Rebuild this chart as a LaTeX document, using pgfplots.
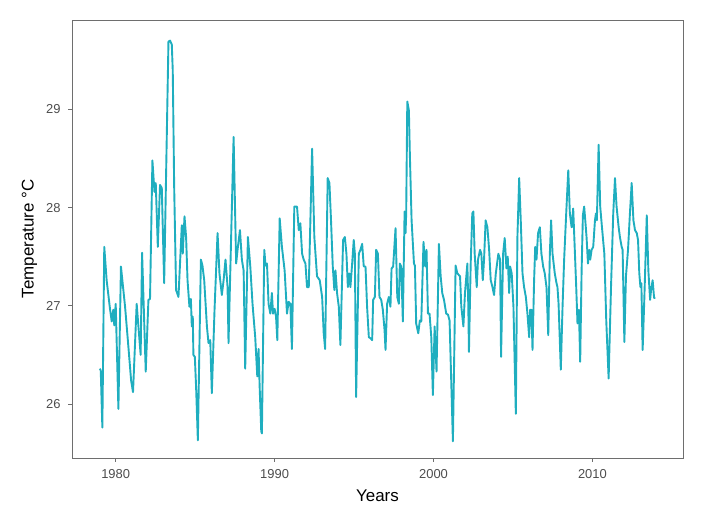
\documentclass[border=0pt]{standalone}
\usepackage{fontspec}
\setmainfont{Liberation Sans}
\usepackage{pgfplots}
\pgfplotsset{compat=1.18}
\definecolor{linecol}{RGB}{31,174,191}
\definecolor{framecol}{RGB}{110,110,110}
\definecolor{tickcol}{RGB}{77,77,77}

\begin{document}
\begin{tikzpicture}
\begin{axis}[
    name=ax,
    scale only axis,
    width=611bp, height=438bp,
    xmin=1977.25, xmax=2015.7,
    ymin=25.45, ymax=29.91,
    xtick={1980,1990,2000,2010},
    ytick={26,27,28,29},
    xtick pos=left, ytick pos=left,
    tick align=outside,
    major tick length=4bp,
    tick style={framecol, line width=0.8bp},
    axis line style={framecol, line width=0.8bp},
    x tick label style={/pgf/number format/1000 sep={}, yshift=-4bp},
    y tick label style={xshift=-4bp},
    /pgf/number format/assume math mode=true,
    ticklabel style={font=\fontsize{13}{15}\selectfont, text=tickcol},
    xlabel={Years},
    ylabel={Temperature °C},
    label style={font=\fontsize{17}{19}\selectfont},
    xlabel style={yshift=-4bp},
    ylabel style={yshift=2bp},
]
\addplot[linecol, line width=1.9bp, line join=round, no markers] coordinates {
(1979.00,26.36) (1979.06,26.34) (1979.16,25.76) (1979.28,27.60) (1979.43,27.26)
(1979.64,26.97) (1979.75,26.84) (1979.85,26.96) (1979.91,26.80) (1980.00,27.02)
(1980.17,25.95) (1980.33,27.40) (1980.59,26.99) (1980.80,26.58) (1980.97,26.24)
(1981.09,26.12) (1981.32,27.02) (1981.43,26.79) (1981.57,26.50) (1981.66,27.54)
(1981.89,26.33) (1982.06,27.06) (1982.16,27.07) (1982.31,28.48) (1982.44,28.16)
(1982.52,28.25) (1982.65,27.60) (1982.79,28.23) (1982.90,28.20) (1983.05,27.23)
(1983.32,29.69) (1983.42,29.70) (1983.53,29.66) (1983.59,29.40) (1983.68,28.21)
(1983.80,27.16) (1983.95,27.09) (1984.16,27.82) (1984.22,27.53) (1984.33,27.91)
(1984.43,27.70) (1984.52,27.26) (1984.64,26.99) (1984.73,27.07) (1984.79,26.79)
(1984.85,26.89) (1984.89,26.50) (1984.98,26.48) (1985.06,26.17) (1985.17,25.63)
(1985.36,27.47) (1985.46,27.41) (1985.57,27.26) (1985.74,26.79) (1985.84,26.62)
(1985.95,26.65) (1986.05,26.11) (1986.22,26.96) (1986.41,27.74) (1986.53,27.33)
(1986.68,27.11) (1986.79,27.26) (1986.91,27.47) (1987.04,27.19) (1987.10,26.62)
(1987.42,28.72) (1987.58,27.43) (1987.69,27.60) (1987.82,27.77) (1987.94,27.47)
(1988.05,27.36) (1988.15,26.36) (1988.32,27.70) (1988.47,27.40) (1988.61,27.02)
(1988.78,26.68) (1988.91,26.28) (1988.99,26.56) (1989.06,26.17) (1989.16,25.72)
(1989.20,25.70) (1989.35,27.57) (1989.43,27.41) (1989.52,27.43) (1989.62,27.02)
(1989.73,26.92) (1989.83,27.13) (1989.90,26.92) (1990.00,26.97) (1990.09,26.89)
(1990.17,26.65) (1990.32,27.89) (1990.46,27.60) (1990.63,27.36) (1990.78,26.92)
(1990.88,27.04) (1990.99,27.02) (1991.09,26.56) (1991.24,28.01) (1991.41,28.01)
(1991.52,27.77) (1991.62,27.84) (1991.73,27.53) (1991.83,27.47) (1991.94,27.43)
(1992.04,27.19) (1992.15,27.19) (1992.36,28.60) (1992.50,27.70) (1992.67,27.30)
(1992.84,27.26) (1992.99,27.09) (1993.09,26.72) (1993.18,26.56) (1993.34,28.30)
(1993.45,28.25) (1993.55,27.87) (1993.66,27.40) (1993.76,27.16) (1993.83,27.36)
(1993.93,27.13) (1994.04,26.99) (1994.14,26.60) (1994.31,27.67) (1994.42,27.70)
(1994.52,27.53) (1994.61,27.19) (1994.69,27.33) (1994.77,27.19) (1994.88,27.43)
(1994.98,27.67) (1995.05,27.53) (1995.13,26.07) (1995.30,27.53) (1995.40,27.57)
(1995.51,27.63) (1995.61,27.40) (1995.72,27.40) (1995.82,26.99) (1995.93,26.68)
(1996.03,26.67) (1996.14,26.65) (1996.20,27.06) (1996.31,27.09) (1996.39,27.57)
(1996.50,27.53) (1996.60,27.09) (1996.71,27.06) (1996.81,26.96) (1996.92,26.75)
(1996.98,26.55) (1997.08,27.02) (1997.19,27.09) (1997.29,26.99) (1997.36,27.38)
(1997.46,27.40) (1997.61,27.79) (1997.72,27.09) (1997.82,27.02) (1997.88,27.43)
(1997.97,27.40) (1998.07,26.84) (1998.18,27.96) (1998.24,27.74) (1998.28,27.94)
(1998.35,29.08) (1998.45,28.99) (1998.51,28.55) (1998.62,27.87) (1998.77,27.43)
(1998.83,27.41) (1998.91,26.82) (1999.04,26.72) (1999.14,26.85) (1999.23,26.84)
(1999.37,27.65) (1999.48,27.40) (1999.56,27.57) (1999.65,26.92) (1999.75,26.92)
(1999.86,26.68) (1999.96,26.09) (2000.07,26.79) (2000.19,26.33) (2000.34,27.63)
(2000.45,27.30) (2000.55,27.13) (2000.66,27.06) (2000.80,26.92) (2000.91,26.91)
(2001.01,26.85) (2001.22,25.62) (2001.39,27.41) (2001.50,27.33) (2001.67,27.30)
(2001.75,26.99) (2001.88,26.79) (2001.98,27.13) (2002.13,27.43) (2002.19,26.99)
(2002.23,26.53) (2002.34,27.43) (2002.44,27.94) (2002.51,27.96) (2002.59,27.53)
(2002.72,27.19) (2002.80,27.47) (2002.93,27.57) (2003.01,27.53) (2003.10,27.26)
(2003.18,27.47) (2003.28,27.87) (2003.39,27.80) (2003.50,27.57) (2003.60,27.26)
(2003.71,27.19) (2003.81,27.11) (2003.92,27.33) (2004.08,27.53) (2004.19,27.47)
(2004.25,26.48) (2004.38,27.53) (2004.48,27.69) (2004.59,27.38) (2004.67,27.50)
(2004.76,27.13) (2004.82,27.40) (2004.92,27.33) (2005.03,26.99) (2005.18,25.90)
(2005.28,27.70) (2005.39,28.30) (2005.49,27.87) (2005.60,27.33) (2005.70,27.19)
(2005.81,27.09) (2005.91,26.92) (2006.02,26.68) (2006.08,26.96) (2006.16,26.96)
(2006.23,26.55) (2006.33,27.26) (2006.40,27.60) (2006.48,27.47) (2006.58,27.74)
(2006.69,27.80) (2006.79,27.53) (2006.90,27.40) (2007.00,27.33) (2007.11,27.19)
(2007.22,26.70) (2007.32,27.53) (2007.40,27.87) (2007.49,27.53) (2007.63,27.33)
(2007.74,27.23) (2007.80,27.19) (2007.87,27.02) (2008.01,26.35) (2008.12,26.99)
(2008.22,27.47) (2008.35,27.94) (2008.48,28.38) (2008.58,27.94) (2008.69,27.80)
(2008.79,27.99) (2008.90,27.53) (2008.98,27.19) (2009.06,26.82) (2009.15,26.96)
(2009.23,26.43) (2009.32,27.36) (2009.40,27.92) (2009.48,28.01) (2009.55,27.87)
(2009.63,27.70) (2009.72,27.43) (2009.80,27.57) (2009.86,27.47) (2009.95,27.57)
(2010.05,27.60) (2010.16,27.87) (2010.22,27.94) (2010.28,27.87) (2010.39,28.64)
(2010.49,28.01) (2010.60,27.80) (2010.75,27.53) (2010.87,26.85) (2011.02,26.26)
(2011.17,27.19) (2011.31,27.94) (2011.42,28.30) (2011.52,28.01) (2011.65,27.80)
(2011.73,27.70) (2011.84,27.60) (2011.90,27.57) (2012.01,26.63) (2012.11,27.30)
(2012.24,27.57) (2012.36,27.94) (2012.47,28.25) (2012.58,27.87) (2012.68,27.77)
(2012.79,27.74) (2012.87,27.67) (2012.95,27.33) (2013.02,27.19) (2013.08,27.23)
(2013.16,26.55) (2013.27,27.09) (2013.42,27.92) (2013.52,27.36) (2013.63,27.06)
(2013.69,27.16) (2013.79,27.26) (2013.88,27.08) (2013.96,27.08)
};
\end{axis}
\pgfresetboundingbox
\path (ax.south west) ++(-72bp,-58bp) coordinate (bl);
\path (ax.north east) ++(22bp,20bp) coordinate (tr);
\path[use as bounding box] (bl) rectangle (tr);
\end{tikzpicture}
\end{document}
